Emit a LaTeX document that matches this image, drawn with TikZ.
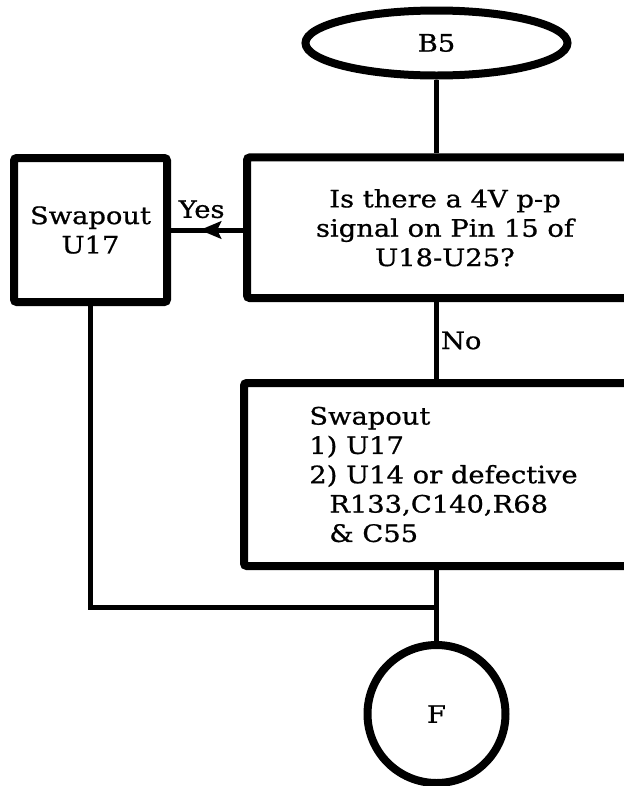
\documentclass[tikz,border=0pt]{standalone}
\usepackage{fontspec}
\newfontfamily\chartfont[FakeStretch=1.14, FakeBold=0.8]{DejaVu Serif}
\usetikzlibrary{arrows.meta, shapes.geometric, decorations.markings}
\tikzset{
    box/.style={draw, line width=6pt, rounded corners=2pt, inner sep=0pt},
    term/.style={draw, ellipse, line width=6pt, inner sep=0pt},
    conn/.style={draw, circle, line width=6pt, inner sep=0pt},
    flow/.style={line width=3.75pt},
    midarrow/.style={postaction={decorate}, decoration={markings,
        mark=at position #1 with {\arrow{Stealth[length=16pt, width=13pt, inset=3pt]}}}}
}

\begin{document}
\begin{tikzpicture}[x=0.75pt, y=-0.75pt,
    font=\chartfont\fontsize{18}{22}\selectfont]
    \useasboundingbox (0,0) rectangle (624,786);
    \clip (0,0) rectangle (624,786);

    \node[term, minimum width=196.5pt, minimum height=48.75pt] (b5) at (436.5,43) {B5};
    \node[box, align=center, minimum width=114.75pt, minimum height=108pt] (swap) at (90.5,230) {Swapout\\U17};
    \node[box, align=center, minimum width=297pt, minimum height=105.4pt] (ques) at (445,227.75)
        {Is there a 4V p-p\\signal on Pin 15 of\\U18-U25?};
    \node[box, align=left, minimum width=299.25pt, minimum height=137.25pt] (fix) at (443.5,474.5)
        {Swapout\\1) U17\\2) U14 or defective\\\hspace*{15pt}R133,C140,R68\\\hspace*{15pt}\& C55};
    \node[conn, minimum size=103.5pt] (f) at (436.5,714) {F};
    \coordinate (join) at (436.5,607);

    \draw[flow] (b5.south) -- (b5.south |- ques.north);
    \draw[flow, midarrow=0.6] (swap.east -| ques.west) -- (swap.east)
        node[above=7pt, pos=0.575, inner sep=0pt] {Yes};
    \draw[flow] (b5.south |- ques.south) -- (b5.south |- fix.north)
        node[midway, right, inner sep=1.5pt] {No};
    \draw[flow] (b5.south |- fix.south) -- (f.north);
    \draw[flow] (swap.south) |- (join);
\end{tikzpicture}
\end{document}
